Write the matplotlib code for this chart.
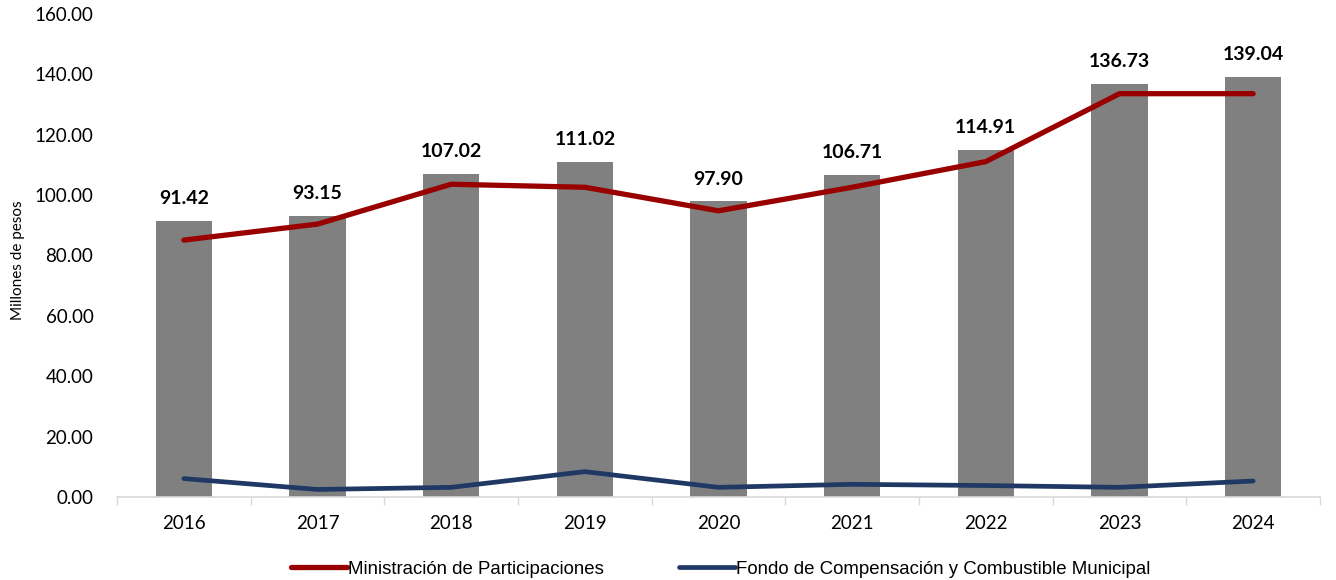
import matplotlib
matplotlib.use("Agg")
import matplotlib.pyplot as plt
from matplotlib.ticker import FormatStrFormatter, FixedLocator

years = ["2016", "2017", "2018", "2019", "2020", "2021", "2022", "2023", "2024"]
totals = [91.42, 93.15, 107.02, 111.02, 97.90, 106.71, 114.91, 136.73, 139.04]
participaciones = [85.1, 90.4, 103.6, 102.6, 94.8, 102.6, 111.1, 133.6, 133.6]
fondo = [6.1, 2.5, 3.2, 8.4, 3.2, 4.2, 3.8, 3.2, 5.3]

fig = plt.figure(figsize=(13.36, 5.8), dpi=100)
ax = fig.add_axes([0.0876, 0.1431, 0.9004, 0.8328])

x = list(range(len(years)))
bars = ax.bar(x, totals, width=0.42, color="#808080", zorder=2)
for xi, v in zip(x, totals):
    ax.annotate(f"{v:.2f}", (xi, v), xytext=(0, 10), textcoords="offset points",
                ha="center", va="bottom", fontsize=14, fontweight="bold",
                family=["Lato", "DejaVu Sans"], color="black")

l1, = ax.plot(x, participaciones, color="#990000", lw=3.8, solid_capstyle="round", zorder=3,
              label="Ministración de Participaciones")
l2, = ax.plot(x, fondo, color="#1F3864", lw=3.4, solid_capstyle="round", zorder=3,
              label="Fondo de Compensación y Combustible Municipal")

ax.set_xlim(-0.5, len(years) - 0.5)
ax.set_ylim(0, 160)
ax.set_yticks([0, 20, 40, 60, 80, 100, 120, 140, 160])
ax.yaxis.set_major_formatter(FormatStrFormatter("%.2f"))
ax.set_xticks(x)
ax.set_xticklabels(years)
ax.xaxis.set_minor_locator(FixedLocator([i + 0.5 for i in range(-1, len(years))]))
ax.tick_params(axis="x", which="major", length=0, pad=13, labelsize=13.5)
ax.tick_params(axis="x", which="minor", length=6, color="#D9D9D9", width=1)
ax.tick_params(axis="y", length=0, pad=17, labelsize=13.5)
for lab in ax.get_xticklabels() + ax.get_yticklabels():
    lab.set_family(["Lato", "DejaVu Sans"])

for s in ["top", "right", "left"]:
    ax.spines[s].set_visible(False)
ax.spines["bottom"].set_color("#D9D9D9")
ax.spines["bottom"].set_linewidth(1.2)

fig.text(18 / 1336, 1 - 260 / 580, "Millones de pesos", rotation=90, ha="center", va="center",
         fontsize=11, family=["Lato", "DejaVu Sans"])

leg = fig.legend(handles=[l1, l2], loc="center", bbox_to_anchor=(0.5395, 1 - 569 / 580), ncol=2,
                 frameon=False, handlelength=3.0, handletextpad=0.1, columnspacing=4.0,
                 borderpad=0,
                 prop={"family": ["Liberation Sans Narrow", "Liberation Sans"], "size": 13.4})

fig.savefig("out.png", dpi=100)
